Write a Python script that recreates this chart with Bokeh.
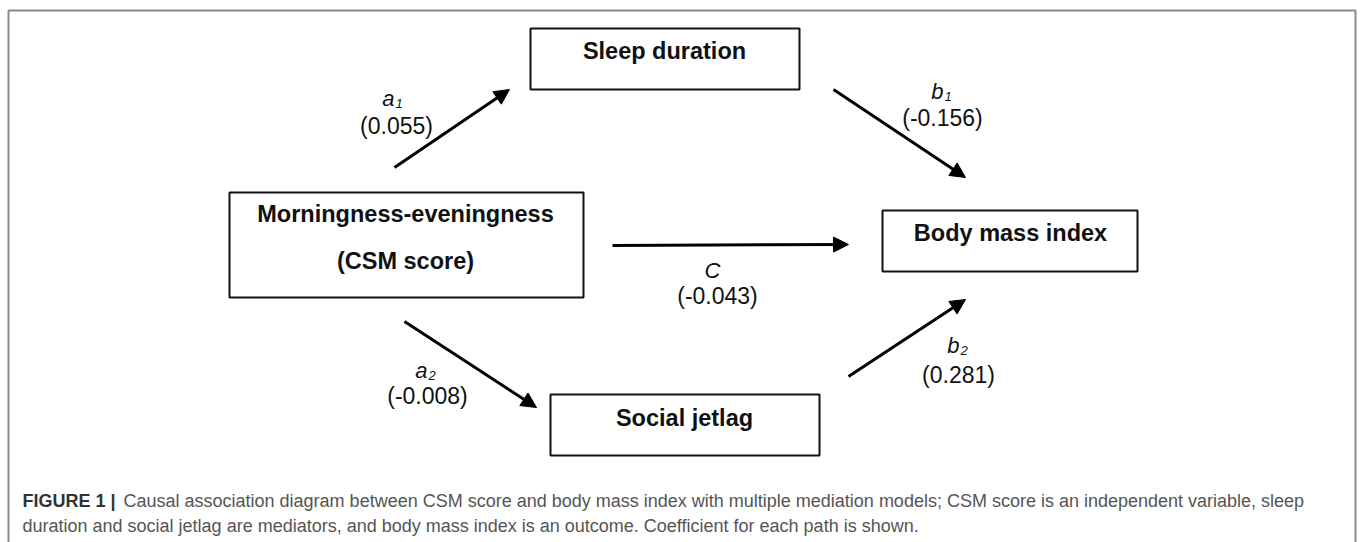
from bokeh.plotting import figure
from bokeh.models import Range1d, Arrow, NormalHead, ColumnDataSource
from bokeh.core.properties import value
from bokeh.embed import file_html
from bokeh.resources import INLINE

# ---- data ----
node_labels = ["Sleep duration", "Morningness-eveningness", "(CSM score)", "Body mass index", "Social jetlag"]
path_letters = ["a", "b", "C", "a", "b"]
path_subs = ["1", "1", "", "2", "2"]
path_coefs = [0.055, -0.156, -0.043, -0.008, 0.281]
caption_bold = "FIGURE 1 |"
caption_line1 = "Causal association diagram between CSM score and body mass index with multiple mediation models; CSM score is an independent variable, sleep"
caption_line2 = "duration and social jetlag are mediators, and body mass index is an outcome. Coefficient for each path is shown."

# ---- layout (page pixel coordinates) ----
boxes = dict(left=[530, 229, 882, 550], right=[799, 583, 1137, 819],
             top=[28, 192, 210, 394], bottom=[89, 297, 271, 455])
label_x = [664, 405, 405, 1010, 684]
label_y = [50, 213, 260, 232, 417]
arrows_xy = [((394, 167), (509, 89)), ((833, 89), (965, 177)), ((612, 245), (848, 244)),
             ((404, 321), (536, 407)), ((848, 376), (965, 299))]
letter_junction_x = [394, 943, 720, 427, 959]
letter_base_y = [106, 99, 278, 378, 353]
coef_x = [396, 942, 717, 427, 958]
coef_y = [125, 117, 295, 395, 374]

FONT = "Liberation Sans"
W, H = 1360, 542
LET = 22.0
SUB = 13.0

p = figure(width=W, height=H, output_backend="svg", toolbar_location=None,
           x_range=Range1d(0, W), y_range=Range1d(H, 0),
           min_border=0, outline_line_color=None, background_fill_color="white",
           border_fill_color="white")
p.axis.visible = False
p.grid.visible = False

# outer frame
p.quad(left=[8], right=[1355], top=[10], bottom=[570], fill_color=None,
       line_color="#8a8a8a", line_width=2)

# boxes
p.quad(source=ColumnDataSource(boxes), left="left", right="right", top="top", bottom="bottom",
       fill_color="white", line_color="#111111", line_width=2)

p.text(x=label_x, y=label_y, text=node_labels, text_align="center", text_baseline="middle",
       text_font=value(FONT), text_font_style="bold", text_font_size="23.5px", text_color="#111111")

# arrows
for (x0, y0), (x1, y1) in arrows_xy:
    p.add_layout(Arrow(x_start=x0, y_start=y0, x_end=x1, y_end=y1, line_width=3, line_color="black",
                       end=NormalHead(size=15, fill_color="black", line_color="black", line_width=1)))

# path labels (letter + subscript)
p.text(x=letter_junction_x, y=[b - 0.35 * LET for b in letter_base_y], text=path_letters,
       text_align="right", text_baseline="middle", text_font=value(FONT),
       text_font_style="italic", text_font_size="%gpx" % LET, text_color="#111111")
p.text(x=[x + 1 for x in letter_junction_x], y=[b + 2 - 0.35 * SUB for b in letter_base_y], text=path_subs,
       text_align="left", text_baseline="middle", text_font=value(FONT),
       text_font_style="italic", text_font_size="%gpx" % SUB, text_color="#111111")
p.text(x=coef_x, y=coef_y, text=["(%.3f)" % c for c in path_coefs],
       text_align="center", text_baseline="middle", text_font=value(FONT),
       text_font_size="23px", text_color="#111111")

# caption
p.text(x=[22], y=[500], text=[caption_bold], text_align="left", text_baseline="middle",
       text_font=value(FONT), text_font_style="bold", text_font_size="18px", text_color="#333333")
p.text(x=[123, 22], y=[500, 525], text=[caption_line1, caption_line2], text_align="left",
       text_baseline="middle", text_font=value(FONT), text_font_size="18px", text_color="#555555")

open("out.html", "w").write(file_html(p, INLINE))
